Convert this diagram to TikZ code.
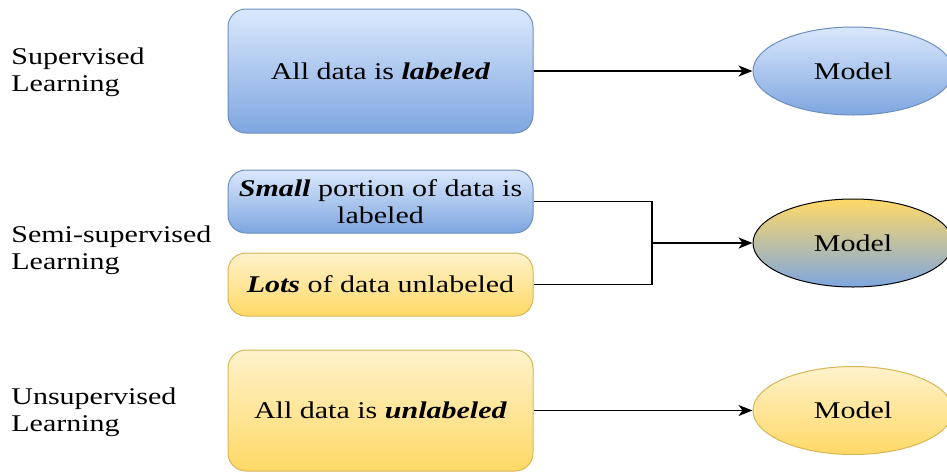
\documentclass[tikz,border=0pt]{standalone}
\usepackage{fontspec}
\setmainfont{Liberation Serif}[FakeStretch=1.25]
\usetikzlibrary{arrows.meta,shapes.geometric}
\definecolor{blueTop}{HTML}{DAE8FC}
\definecolor{blueBot}{HTML}{7EA6E0}
\definecolor{blueLine}{HTML}{6C8EBF}
\definecolor{yellowTop}{HTML}{FFF2CC}
\definecolor{yellowBot}{HTML}{FFD966}
\definecolor{yellowLine}{HTML}{D6B656}
\tikzset{
	databox/.style={rectangle, rounded corners=9pt, minimum width=152.5pt, align=center, inner sep=2pt, line width=0.5pt},
	bluebox/.style={databox, draw=blueLine, top color=blueTop, bottom color=blueBot},
	yellowbox/.style={databox, draw=yellowLine, top color=yellowTop, bottom color=yellowBot},
	model/.style={ellipse, minimum width=100pt, minimum height=44pt, inner sep=0pt, line width=0.5pt},
	kind/.style={anchor=west, align=left, inner sep=0pt},
	flow/.style={line width=0.7pt, -{Stealth[length=7pt, width=5.5pt, inset=2pt]}}
}

\begin{document}
\begin{tikzpicture}[x=0.5pt, y=-0.5pt, font=\fontsize{12}{13.5}\selectfont]
			%%%%% START %%%%%
			
			\clip (0, 0) rectangle (947, 472);
			\fill[white] (0, 0) rectangle (947, 472);
			
			% method names on the left
			\node[kind] (sup) at (11, 72) {Supervised\\Learning};
			\node[kind] (semi) at (11, 250) {Semi-supervised\\Learning};
			\node[kind] (unsup) at (11, 412) {Unsupervised\\Learning};
			
			% data boxes
			\node[bluebox, minimum height=62pt] (all) at (380.5, 71) {All data is \textbf{\textit{labeled}}};
			\node[bluebox, minimum height=31.5pt] (small) at (380.5, 201.5) {\textbf{\textit{Small}} portion of data is\\labeled};
			\node[yellowbox, minimum height=31.5pt] (lots) at (380.5, 284.5) {\textbf{\textit{Lots}} of data unlabeled};
			\node[yellowbox, minimum height=60.5pt] (none) at (380.5, 410.5) {All data is \textbf{\textit{unlabeled}}};
			
			% models
			\node[model, draw=blueLine, top color=blueTop, bottom color=blueBot] (m1) at (853, 71) {Model};
			\node[model, draw=black, top color=yellowBot, bottom color=blueBot] (m2) at (853, 243) {Model};
			\node[model, draw=yellowLine, top color=yellowTop, bottom color=yellowBot] (m3) at (853, 410.5) {Model};
			
			% connectors
			\coordinate (join) at (652, 243);
			\draw[flow] (all.east) -- (m1.west);
			\draw[line width=0.7pt] (small.east) -| (join);
			\draw[line width=0.7pt] (lots.east) -| (join);
			\draw[flow] (join) -- (m2.west);
			\draw[flow] (none.east) -- (m3.west);
			
			%%%%% END %%%%%
		\end{tikzpicture}
\end{document}
